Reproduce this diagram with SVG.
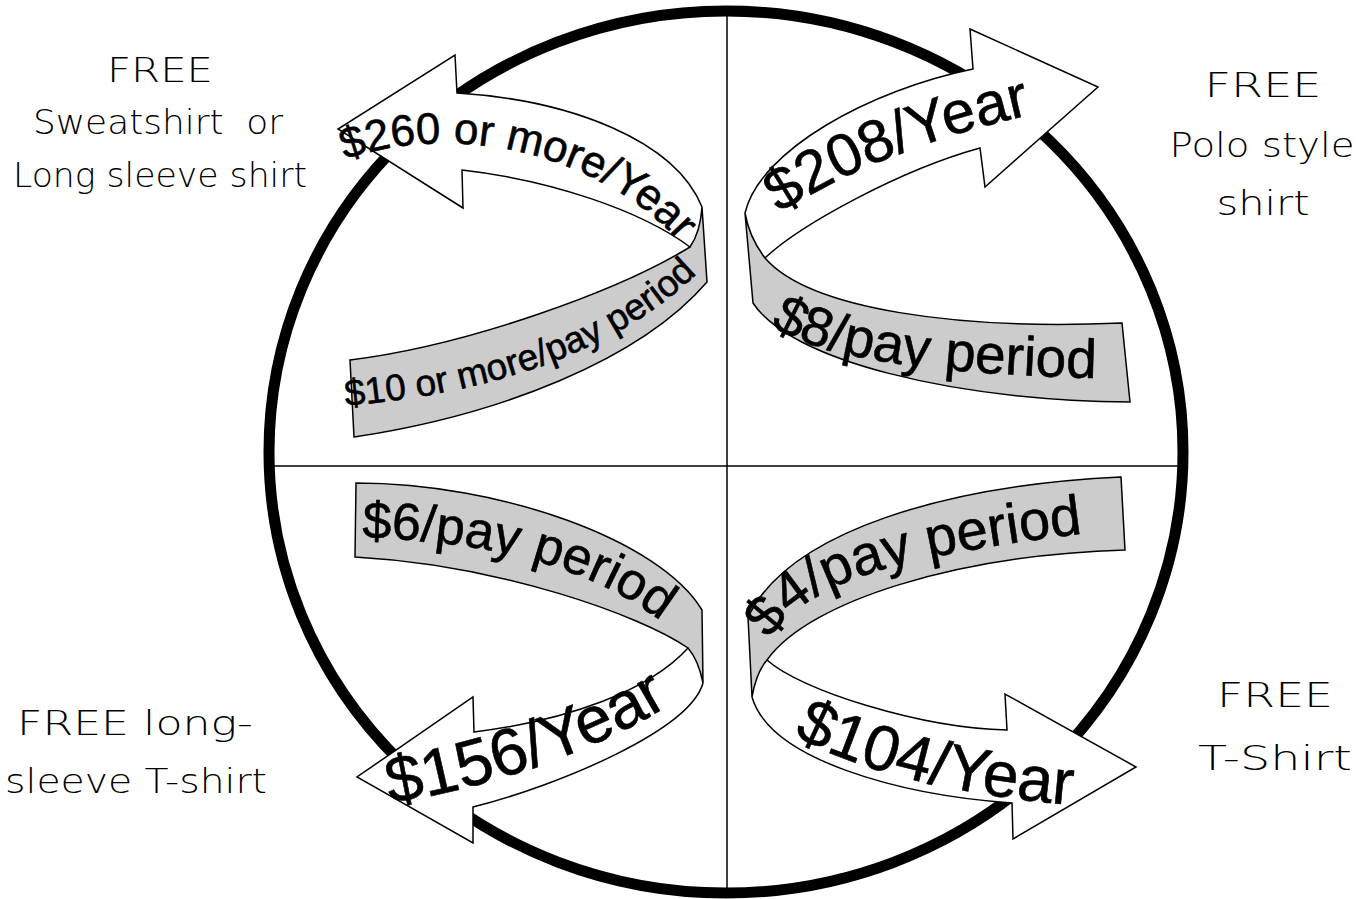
<svg xmlns="http://www.w3.org/2000/svg" width="1370" height="899" viewBox="0 0 1370 899">
<style>
.gray{fill:#cccccc;stroke:none}
.white{fill:#ffffff;stroke:none}
.edge{fill:none;stroke:#000;stroke-width:1.5;stroke-linejoin:miter}
.rt{font-family:"Liberation Sans",Arial,sans-serif;fill:#000;stroke:#000;stroke-width:0.6}
.hand{font-family:"DejaVu Sans",sans-serif;font-weight:200;font-size:34px;fill:#000;text-anchor:middle}
</style>
<defs>
<path id="pA1" d="M 345 160 C 460 118, 612 158, 686 250"/>
<path id="pA2" d="M 346 406 C 470 395, 620 360, 712 258"/>
<path id="pB1" d="M 780 214 Q 880 148 1034 114"/>
<path id="pB2" d="M 770 326 Q 840 372 1096 378"/>
<path id="pC1" d="M 362 538 C 480 540, 600 565, 676 634"/>
<path id="pC2" d="M 390 804 Q 560 774 678 700"/>
<path id="pD1" d="M 770 640 C 806 585, 880 558, 1096 532"/>
<path id="pD2" d="M 793 736 Q 900 792 1086 806"/>
</defs>
<rect width="1370" height="899" fill="#fff"/>
<g id="frame">
<ellipse cx="726" cy="452" rx="457" ry="441" fill="none" stroke="#000" stroke-width="11"/>
<line x1="727" y1="11" x2="727" y2="894" stroke="#000" stroke-width="1.5"/>
<line x1="267" y1="466" x2="1182" y2="466" stroke="#000" stroke-width="1.5"/>
</g>
<g id="connectors">
<g id="ribbon-tl">
<path class="gray" d="M 350 360 L 354 437 C 500 415, 640 360, 707 282 L 702 207 C 701 222, 697 237, 690 247 C 620 290, 470 345, 350 360 Z"/>
<path class="white" d="M 457 93 C 570 100, 675 140, 702 207 C 701 222, 697 237, 690 247 C 640 210, 550 180, 462 170 L 463 208 L 338 129 L 455 55 Z"/>
<path class="edge" d="M 350 360 L 354 437 C 500 415, 640 360, 707 282 L 702 207 C 675 140, 570 100, 457 93 L 455 55 L 338 129 L 463 208 L 462 170 C 550 180, 640 210, 690 247 C 620 290, 470 345, 350 360 Z M 690 247 C 697 237, 701 222, 702 207"/>
<text class="rt" font-size="44"><textPath href="#pA1">$260 or more/Year</textPath></text>
<text class="rt" font-size="37"><textPath href="#pA2">$10 or more/pay period</textPath></text>
</g>
<g id="ribbon-tr">
<path class="gray" d="M 745 213 L 753 303 C 790 360, 950 400, 1130 402 L 1122 323 C 960 330, 810 310, 765 258 C 755 245, 748 230, 745 213 Z"/>
<path class="white" d="M 973 69 C 870 90, 760 150, 745 213 C 748 230, 755 245, 765 258 C 800 225, 900 170, 980 148 L 985 187 L 1098 87 L 970 29 Z"/>
<path class="edge" d="M 970 29 L 1098 87 L 985 187 L 980 148 C 900 170, 800 225, 765 258 C 810 310, 960 330, 1122 323 L 1130 402 C 950 400, 790 360, 753 303 L 745 213 C 760 150, 870 90, 973 69 Z M 765 258 C 755 245, 748 230, 745 213"/>
<text class="rt" font-size="60"><textPath href="#pB1">$208/Year</textPath></text>
<text class="rt" font-size="55"><textPath href="#pB2">$8/pay period</textPath></text>
</g>
<g id="ribbon-bl">
<path class="gray" d="M 356 483 C 500 483, 660 540, 702 610 L 703 683 C 700 668, 695 656, 688 648 C 640 615, 500 565, 355 557 Z"/>
<path class="white" d="M 688 648 C 695 656, 700 668, 703 683 C 690 730, 560 785, 473 807 L 473 843 L 357 777 L 473 697 L 474 732 C 570 720, 650 690, 688 648 Z"/>
<path class="edge" d="M 356 483 C 500 483, 660 540, 702 610 L 703 683 C 690 730, 560 785, 473 807 L 473 843 L 357 777 L 473 697 L 474 732 C 570 720, 650 690, 688 648 C 640 615, 500 565, 355 557 Z M 688 648 C 695 656, 700 668, 703 683"/>
<text class="rt" font-size="52"><textPath href="#pC1">$6/pay period</textPath></text>
<text class="rt" font-size="66"><textPath href="#pC2">$156/Year</textPath></text>
</g>
<g id="ribbon-br">
<path class="gray" d="M 1121 477 C 950 485, 790 530, 748 617 L 752 697 C 755 680, 760 668, 767 660 C 810 600, 960 555, 1125 550 Z"/>
<path class="white" d="M 767 660 C 760 668, 755 680, 752 697 C 770 760, 900 795, 1012 803 L 1013 839 L 1136 767 L 1005 694 L 1007 730 C 920 728, 800 690, 767 660 Z"/>
<path class="edge" d="M 1121 477 C 950 485, 790 530, 748 617 L 752 697 C 770 760, 900 795, 1012 803 L 1013 839 L 1136 767 L 1005 694 L 1007 730 C 920 728, 800 690, 767 660 C 810 600, 960 555, 1125 550 Z M 767 660 C 760 668, 755 680, 752 697"/>
<text class="rt" font-size="56"><textPath href="#pD1">$4/pay period</textPath></text>
<text class="rt" font-size="64"><textPath href="#pD2">$104/Year</textPath></text>
</g>
</g>
<g id="label-tl">
<text class="hand" x="160" y="82" textLength="106" lengthAdjust="spacingAndGlyphs">FREE</text>
<text class="hand" x="158" y="134" xml:space="preserve" textLength="250" lengthAdjust="spacingAndGlyphs">Sweatshirt  or</text>
<text class="hand" x="160" y="187" textLength="294" lengthAdjust="spacingAndGlyphs">Long sleeve shirt</text>
</g>
<g id="label-tr">
<text class="hand" x="1263" y="97" textLength="117" lengthAdjust="spacingAndGlyphs">FREE</text>
<text class="hand" x="1262" y="157" textLength="185" lengthAdjust="spacingAndGlyphs">Polo style</text>
<text class="hand" x="1263" y="215" textLength="93" lengthAdjust="spacingAndGlyphs">shirt</text>
</g>
<g id="label-bl">
<text class="hand" x="135" y="735" textLength="236" lengthAdjust="spacingAndGlyphs">FREE long-</text>
<text class="hand" x="136" y="793" textLength="262" lengthAdjust="spacingAndGlyphs">sleeve T-shirt</text>
</g>
<g id="label-br">
<text class="hand" x="1275" y="707" textLength="116" lengthAdjust="spacingAndGlyphs">FREE</text>
<text class="hand" x="1275" y="770" textLength="154" lengthAdjust="spacingAndGlyphs">T-Shirt</text>
</g>
</svg>
